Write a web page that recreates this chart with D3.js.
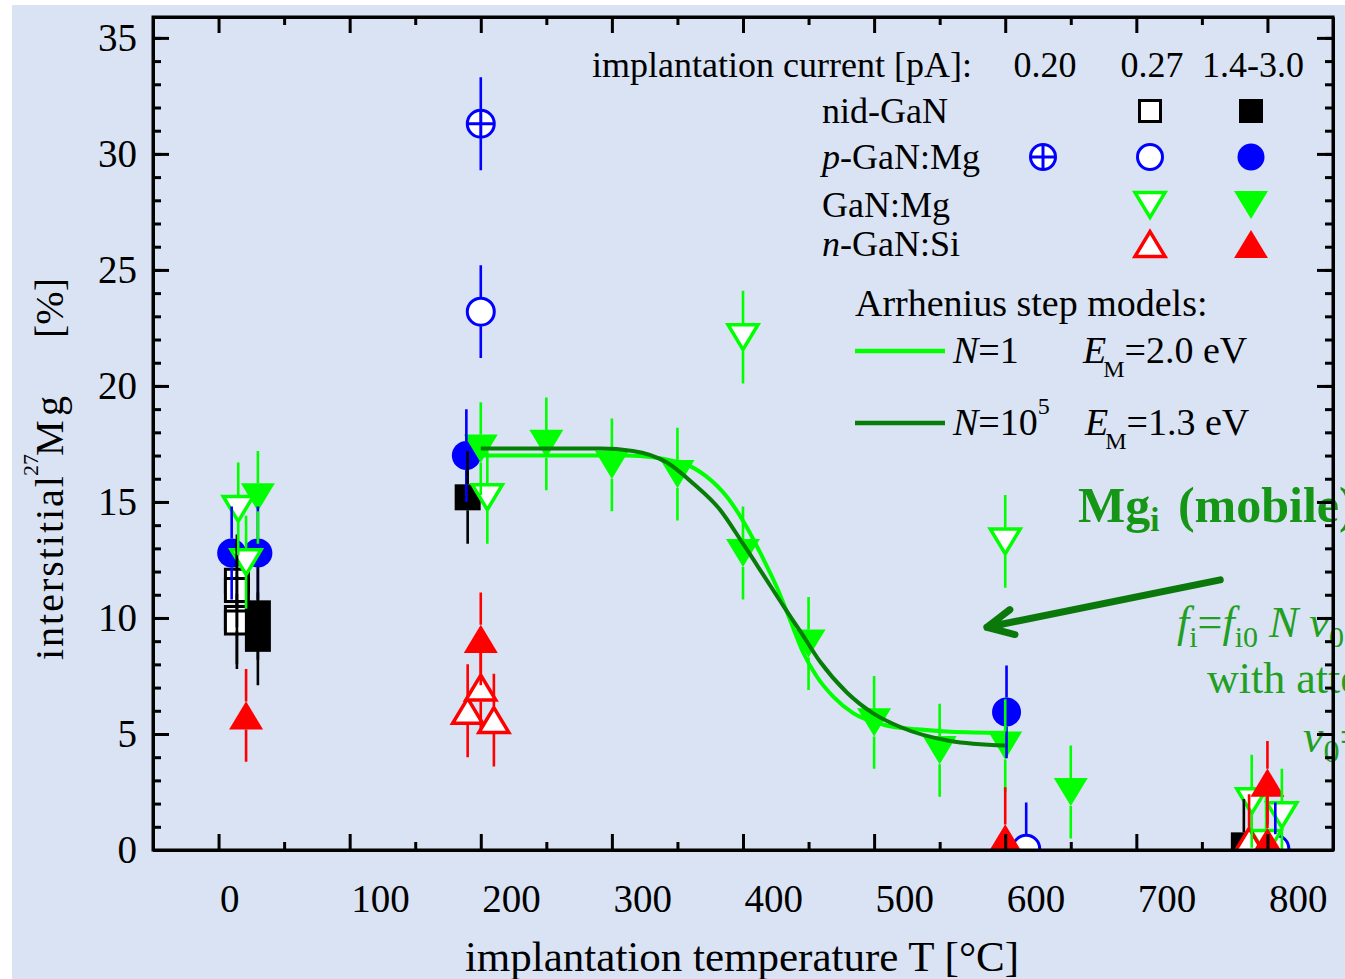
<!DOCTYPE html>
<html>
<head>
<meta charset="utf-8">
<script src="https://cdn.jsdelivr.net/npm/d3@7"></script>
<style>
  body { margin: 0; background: #fff; }
  svg { display: block; font-family: 'Liberation Serif', 'Times New Roman', serif; }
</style>
</head>
<body>
<svg id="chart" width="1345" height="979"></svg>
<script>
/* global d3 */
'use strict';

// tick values
const xMajorTicks = [0, 100, 200, 300, 400, 500, 600, 700, 800];
const xMinorTicks = [50, 150, 250, 350, 450, 550, 650, 750];
const yMajorTicks = [0, 5, 10, 15, 20, 25, 30, 35];
const yMinorTicks = d3.range(0, 36, 1);

// measurements: [T (°C), interstitial 27Mg (%), error (%)]
const nidGaN_027 = [[14, 11.6, 2], [14, 11.2, 2], [14, 10.0, 2], [14, 9.8, 2]];
const nidGaN_hi = [[30, 10.2, 2], [30, 9.1, 2], [190, 15.2, 2], [782, 0.2, 2]];
const pGaN_020 = [[200, 31.3, 2]];
const pGaN_027 = [[200, 23.2, 2], [616, 0.05, 2], [806, 0.05, 2]];
const pGaN_hi = [[10, 12.8, 2], [30, 12.8, 2], [189, 17.0, 2], [601, 5.95, 2]];
const GaNMg_027 = [[15, 14.7, 2], [21, 12.4, 2], [205, 15.2, 2], [400, 22.1, 2], [600, 13.3, 2],
                   [788, 2.1, 2], [811, 1.5, 2], [799, 0.3, 2]];
const GaNMg_hi = [[30, 15.2, 2], [200, 17.3, 2], [250, 17.5, 2], [300, 16.6, 2], [350, 16.2, 2],
                  [400, 12.8, 2], [450, 8.9, 2], [500, 5.5, 2], [550, 4.3, 2], [600, 4.5, 2], [650, 2.5, 2]];
const nGaNSi_027 = [[190, 6.0, 2], [200, 7.0, 2], [210, 5.6, 2], [786, 0.4, 2]];
const nGaNSi_hi = [[21, 5.8, 2], [200, 9.1, 2], [600, 0.5, 2.2], [800, 2.9, 1.8], [800, 0.35, 2]];

// Arrhenius step model curves
const modelN1T = [200, 250, 311, 352, 372, 388, 403, 415, 426, 436, 446, 456, 469, 484, 507, 533, 558, 600];
const modelN1V = [17.0, 17.0, 17.0, 16.7, 16.1, 15.2, 13.9, 12.6, 11.3, 9.9, 8.5, 7.5, 6.6, 5.9, 5.4, 5.2, 5.1, 5.05];
const modelN5T = [200, 291, 316, 342, 362, 382, 400, 415, 431, 444, 459, 479, 499, 520, 558, 600];
const modelN5V = [17.3, 17.3, 17.2, 16.7, 15.8, 14.7, 13.2, 11.9, 10.5, 9.4, 8.1, 6.8, 5.9, 5.3, 4.7, 4.5];

// legend labels
const currentLabels = ['0.20', '0.27', '1.4-3.0'];
const sampleLabels = [['', 'nid-GaN'], ['p', '-GaN:Mg'], ['', 'GaN:Mg'], ['n', '-GaN:Si']];

// annotation arrow (data coords)
const arrowFrom = [764, 11.64];
const arrowTo = [586, 9.6];

const blue = '#0000ff', green = '#00ff00', red = '#ff0000', black = '#000000';
const lightCurve = '#00ff00', darkCurve = '#067d06', noteGreen = '#169616';

const series = [
    {data: pGaN_hi, row: 1, col: 2, shape: 'circle', fill: true, color: blue},
    {data: pGaN_027, row: 1, col: 1, shape: 'circle', fill: false, color: blue},
    {data: pGaN_020, row: 1, col: 0, shape: 'cross', fill: false, color: blue},
    {data: nidGaN_027, row: 0, col: 1, shape: 'square', fill: false, color: black},
    {data: nidGaN_hi, row: 0, col: 2, shape: 'square', fill: true, color: black},
    {data: GaNMg_027, row: 2, col: 1, shape: 'down', fill: false, color: green},
    {data: GaNMg_hi, row: 2, col: 2, shape: 'down', fill: true, color: green},
    {data: nGaNSi_027, row: 3, col: 1, shape: 'up', fill: false, color: red},
    {data: nGaNSi_hi, row: 3, col: 2, shape: 'up', fill: true, color: red}
];

const plot = {left: 153, right: 1333, top: 17, bottom: 850};

const svg = d3.select('#chart');
svg.append('rect').attr('width', 1345).attr('height', 979).attr('fill', '#fff');
svg.append('rect').attr('x', 12).attr('y', 5).attr('width', 1345).attr('height', 979).attr('fill', '#dae3f3');

const x = d3.scaleLinear().domain([-50, 850]).range([plot.left, plot.right]);
const y = d3.scaleLinear().domain([0, 35.9]).range([plot.bottom, plot.top]);

svg.append('defs').append('clipPath')
    .attr('id', 'plotClip')
    .append('rect')
    .attr('x', plot.left).attr('y', plot.top)
    .attr('width', plot.right - plot.left).attr('height', plot.bottom - plot.top);

// marker sizes
const sizes = {
    square: {filled: 26, open: 23, half: 13},
    circle: {filled: 29, open: 27, half: 14.5},
    cross: {filled: 27, open: 27, half: 14.5},
    down: {filled: 34, open: 30, half: 14},
    up: {filled: 34, open: 30, half: 14}
};

function markerPath(shape, size) {
    const p = d3.path();
    const h = size / 2;
    if (shape === 'square') {
        p.rect(-h, -h, size, size);
    } else if (shape === 'circle' || shape === 'cross') {
        p.moveTo(h, 0);
        p.arc(0, 0, h, 0, 2 * Math.PI);
    } else {
        const th = size * 0.83 / 2;
        if (shape === 'down') {
            p.moveTo(-h, -th); p.lineTo(h, -th); p.lineTo(0, th);
        } else {
            p.moveTo(0, -th); p.lineTo(h, th); p.lineTo(-h, th);
        }
        p.closePath();
    }
    return p.toString();
}

function drawMarker(sel, s, size) {
    sel.append('path')
        .attr('d', markerPath(s.shape, size))
        .attr('fill', s.fill ? s.color : '#fff')
        .attr('stroke', s.fill ? 'none' : s.color)
        .attr('stroke-width', s.shape === 'down' || s.shape === 'up' ? 3.5 : 3)
        .attr('stroke-linejoin', 'miter');
    if (s.shape === 'cross') {
        const r = size / 2;
        sel.append('path')
            .attr('d', `M${-r},0H${r}M0,${-r}V${r}`)
            .attr('stroke', s.color)
            .attr('stroke-width', 3);
    }
}

//
// Axes
//

const axisG = svg.append('g');

function styleAxis(g) {
    g.select('.domain').attr('stroke', black).attr('stroke-width', 3);
    g.selectAll('.tick line').attr('stroke', black).attr('stroke-width', 3);
    g.selectAll('.tick text').attr('fill', black).attr('font-size', 39)
        .attr('font-family', "'Liberation Serif', 'Times New Roman', serif");
}

axisG.append('g')
    .attr('transform', `translate(0,${plot.bottom})`)
    .call(d3.axisBottom(x).tickValues(xMinorTicks).tickSize(-8).tickSizeOuter(0).tickFormat(''))
    .call(styleAxis);
axisG.append('g')
    .attr('transform', `translate(0,${plot.top})`)
    .call(d3.axisTop(x).tickValues(xMinorTicks).tickSize(-8).tickSizeOuter(0).tickFormat(''))
    .call(styleAxis);
axisG.append('g')
    .attr('transform', `translate(0,${plot.top})`)
    .call(d3.axisTop(x).tickValues(xMajorTicks).tickSize(-16).tickSizeOuter(0).tickFormat(''))
    .call(styleAxis);
axisG.append('g')
    .attr('transform', `translate(${plot.left},0)`)
    .call(d3.axisLeft(y).tickValues(yMinorTicks).tickSize(-8).tickSizeOuter(0).tickFormat(''))
    .call(styleAxis);
axisG.append('g')
    .attr('transform', `translate(${plot.right},0)`)
    .call(d3.axisRight(y).tickValues(yMinorTicks).tickSize(-8).tickSizeOuter(0).tickFormat(''))
    .call(styleAxis);
axisG.append('g')
    .attr('transform', `translate(${plot.right},0)`)
    .call(d3.axisRight(y).tickValues(yMajorTicks).tickSize(-16).tickSizeOuter(0).tickFormat(''))
    .call(styleAxis);

const xAxisG = axisG.append('g')
    .attr('transform', `translate(0,${plot.bottom})`)
    .call(d3.axisBottom(x).tickValues(xMajorTicks).tickSize(-16).tickSizeOuter(0).tickFormat(d3.format('d')))
    .call(styleAxis);
xAxisG.selectAll('.tick text')
    .attr('text-anchor', 'start')
    .attr('x', 1)
    .attr('y', 62)
    .attr('dy', 0);

axisG.append('g')
    .attr('transform', `translate(${plot.left},0)`)
    .call(d3.axisLeft(y).tickValues(yMajorTicks).tickSize(-16).tickSizeOuter(0).tickPadding(16).tickFormat(d3.format('d')))
    .call(styleAxis);

// axis titles
svg.append('text')
    .attr('x', 742).attr('y', 971)
    .attr('text-anchor', 'middle')
    .attr('font-size', 43)
    .text('implantation temperature T [°C]');

const yTitle = svg.append('g').attr('transform', 'translate(63,660) rotate(-90)').attr('font-size', 40);
yTitle.append('text').attr('x', 0).attr('y', 0)
    .attr('textLength', 184).attr('lengthAdjust', 'spacing').text('interstitial');
yTitle.append('text').attr('x', 184).attr('y', -25).attr('font-size', 22).text('27');
yTitle.append('text').attr('x', 204).attr('y', 0)
    .attr('textLength', 60).attr('lengthAdjust', 'spacing').text('Mg');
yTitle.append('text').attr('x', 322).attr('y', 0)
    .attr('textLength', 60).attr('lengthAdjust', 'spacing').text('[%]');

//
// Data marks
//

const marks = svg.append('g').attr('clip-path', 'url(#plotClip)');
const markLayer = marks.append('g');
const errLayer = marks.append('g');
const curveLayer = marks.append('g');

series.forEach(function (s) {
    const sz = sizes[s.shape];
    const size = s.fill ? sz.filled : sz.open;
    markLayer.append('g')
        .selectAll('g')
        .data(s.data)
        .join('g')
        .attr('transform', d => `translate(${x(d[0])},${y(d[1])})`)
        .each(function () { drawMarker(d3.select(this), s, size); });

    errLayer.append('g')
        .selectAll('path')
        .data(s.data)
        .join('path')
        .attr('d', function (d) {
            const cx = x(d[0]);
            const cy = y(d[1]);
            const top = y(d[1] + d[2]);
            const bot = y(d[1] - d[2]);
            return `M${cx},${top}V${cy - sz.half}M${cx},${cy + sz.half}V${bot}`;
        })
        .attr('stroke', s.color)
        .attr('stroke-width', 2.6)
        .attr('fill', 'none');
});

const line = d3.line()
    .x(d => x(d[0]))
    .y(d => y(d[1]))
    .curve(d3.curveMonotoneX);

curveLayer.append('path')
    .datum(d3.zip(modelN1T, modelN1V))
    .attr('d', line)
    .attr('fill', 'none')
    .attr('stroke', lightCurve)
    .attr('stroke-width', 4);
curveLayer.append('path')
    .datum(d3.zip(modelN5T, modelN5V))
    .attr('d', line)
    .attr('fill', 'none')
    .attr('stroke', darkCurve)
    .attr('stroke-width', 4);

//
// Legend
//

const legend = svg.append('g').attr('font-size', 36);
const colX = [1043, 1150, 1251];
const rowY = [111, 157, 205, 244];

legend.append('text').attr('x', 592).attr('y', 77).text('implantation current [pA]:');
legend.selectAll('text.cur')
    .data(currentLabels)
    .join('text')
    .attr('class', 'cur')
    .attr('x', (d, i) => colX[i] + 2)
    .attr('y', 77)
    .attr('text-anchor', 'middle')
    .text(d => d);

legend.selectAll('text.row')
    .data(sampleLabels)
    .join('text')
    .attr('class', 'row')
    .attr('x', 822)
    .attr('y', (d, i) => rowY[i] + 12)
    .each(function (d) {
        const t = d3.select(this);
        if (d[0]) t.append('tspan').attr('font-style', 'italic').text(d[0]);
        t.append('tspan').text(d[1]);
    });

series.forEach(function (s) {
    const legSize = {square: s.fill ? 24 : 21, circle: s.fill ? 27 : 25, cross: 25, down: s.fill ? 34 : 30, up: s.fill ? 34 : 30};
    const g = legend.append('g').attr('transform', `translate(${colX[s.col]},${rowY[s.row]})`);
    drawMarker(g, s, legSize[s.shape]);
});

// model legend
const models = svg.append('g').attr('font-size', 38);
models.append('text').attr('x', 855).attr('y', 316).text('Arrhenius step models:');
[[351, lightCurve, '1', '2.0'], [423, darkCurve, '10', '1.3']].forEach(function (m, i) {
    models.append('line')
        .attr('x1', 855).attr('x2', 945)
        .attr('y1', m[0]).attr('y2', m[0])
        .attr('stroke', m[1]).attr('stroke-width', 4.5);
    const t1 = models.append('text').attr('x', 953).attr('y', m[0] + 12);
    t1.append('tspan').attr('font-style', 'italic').text('N');
    t1.append('tspan').text('=' + m[2]);
    if (i === 1) t1.append('tspan').attr('font-size', 24).attr('dy', -21).text('5');
    const t2 = models.append('text').attr('x', 1083 + i * 2).attr('y', m[0] + 12);
    t2.append('tspan').attr('font-style', 'italic').text('E');
    t2.append('tspan').attr('font-size', 24).attr('dy', 14).attr('dx', -3).text('M');
    t2.append('tspan').attr('dy', -14).text('=' + m[3] + ' eV');
});

//
// Annotation
//

const note = svg.append('g').attr('fill', noteGreen);
const mg = note.append('text').attr('x', 1078).attr('y', 522)
    .attr('font-size', 50).attr('font-weight', 'bold');
mg.append('tspan').text('Mg');
mg.append('tspan').attr('font-size', 33).attr('dy', 9).text('i');
mg.append('tspan').attr('dy', -9).attr('dx', 6).text(' (mobile)');

const formula = note.append('text').attr('x', 1177).attr('y', 637).attr('font-size', 44).attr('fill', '#229f22');
formula.append('tspan').attr('font-style', 'italic').text('f');
formula.append('tspan').attr('font-size', 30).attr('dy', 10).text('i');
formula.append('tspan').attr('dy', -10).text('=');
formula.append('tspan').attr('font-style', 'italic').text('f');
formula.append('tspan').attr('font-size', 30).attr('dy', 10).text('i0');
formula.append('tspan').attr('dy', -10).attr('font-style', 'italic').text(' N ν');
formula.append('tspan').attr('font-size', 30).attr('dy', 10).text('0');

note.append('text').attr('x', 1207).attr('y', 693).attr('font-size', 44).attr('fill', '#229f22')
    .text('with attempt frequency');

const nu = note.append('text').attr('x', 1303).attr('y', 752).attr('font-size', 46).attr('fill', '#229f22');
nu.append('tspan').attr('font-style', 'italic').text('ν');
nu.append('tspan').attr('font-size', 32).attr('dy', 10).text('0');
nu.append('tspan').attr('dy', -10).text('=');

// arrow
const ax0 = x(arrowFrom[0]), ay0 = y(arrowFrom[1]);
const ax1 = x(arrowTo[0]), ay1 = y(arrowTo[1]);
const ang = Math.atan2(ay0 - ay1, ax0 - ax1);
const headLen = 29, headAng = 26 * Math.PI / 180;
const arrowPath = d3.path();
arrowPath.moveTo(ax0, ay0);
arrowPath.lineTo(ax1, ay1);
arrowPath.moveTo(ax1 + headLen * Math.cos(ang - headAng), ay1 + headLen * Math.sin(ang - headAng));
arrowPath.lineTo(ax1, ay1);
arrowPath.lineTo(ax1 + headLen * Math.cos(ang + headAng), ay1 + headLen * Math.sin(ang + headAng));
svg.append('path')
    .attr('d', arrowPath.toString())
    .attr('fill', 'none')
    .attr('stroke', '#0b780b')
    .attr('stroke-width', 7)
    .attr('stroke-linecap', 'round')
    .attr('stroke-linejoin', 'round');

// frame drawn over annotation text, as in the original
svg.append('rect')
    .attr('x', plot.left).attr('y', plot.top)
    .attr('width', plot.right - plot.left).attr('height', plot.bottom - plot.top)
    .attr('fill', 'none').attr('stroke', black).attr('stroke-width', 3);
axisG.raise();
</script>
</body>
</html>
